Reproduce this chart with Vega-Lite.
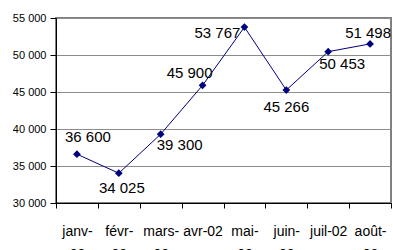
{
  "$schema": "https://vega.github.io/schema/vega-lite/v6.json",
  "width": 335,
  "height": 185,
  "autosize": {"type": "none"},
  "padding": {"left": 56, "top": 18, "right": 2, "bottom": 47},
  "background": "white",
  "config": {
    "locale": {"number": {"decimal": ",", "thousands": " ", "grouping": [3], "currency": ["", " €"]}},
    "view": {"stroke": "#808080", "strokeWidth": 2},
    "font": "Liberation Sans"
  },
  "data": {
    "values": [
      {"mois": "janv-02", "valeur": 36600},
      {"mois": "févr-02", "valeur": 34025},
      {"mois": "mars-02", "valeur": 39300},
      {"mois": "avr-02", "valeur": 45900},
      {"mois": "mai-02", "valeur": 53767},
      {"mois": "juin-02", "valeur": 45266},
      {"mois": "juil-02", "valeur": 50453},
      {"mois": "août-02", "valeur": 51498}
    ]
  },
  "encoding": {
    "x": {
      "field": "mois", "type": "nominal", "sort": null,
      "scale": {"paddingInner": 0, "paddingOuter": 0},
      "axis": {
        "title": null, "labelAngle": 0, "tickBand": "extent",
        "domainColor": "black", "tickColor": "black", "tickSize": 5,
        "labelColor": "black", "labelFont": "Liberation Sans", "labelFontSize": 14,
        "labelLineHeight": 23, "labelPadding": 16, "labelBaseline": "top",
        "labelExpr": "indexof(['avr-02','juil-02'], datum.label) >= 0 ? datum.label : [slice(datum.label, 0, indexof(datum.label, '-') + 1), slice(datum.label, indexof(datum.label, '-') + 1)]"
      }
    },
    "y": {
      "field": "valeur", "type": "quantitative",
      "scale": {"domain": [30000, 55000], "nice": false, "zero": false},
      "axis": {
        "title": null, "values": [30000, 35000, 40000, 45000, 50000, 55000], "format": ",d",
        "domainColor": "black", "tickColor": "black", "tickSize": 6, "labelPadding": 4,
        "labelColor": "black", "labelFont": "Liberation Sans", "labelFontSize": 11,
        "gridColor": "#8c8c8c", "gridWidth": 1
      }
    }
  },
  "layer": [
    {"mark": {"type": "line", "color": "#000080", "strokeWidth": 1}},
    {"mark": {"type": "point", "shape": "diamond", "size": 60, "filled": true, "color": "#000080", "opacity": 1}},
    {"transform": [{"filter": "datum.mois == 'janv-02'"}], "mark": {"type": "text", "fontSize": 15, "dx": 11, "dy": -17}, "encoding": {"text": {"field": "valeur", "format": ",d"}}},
    {"transform": [{"filter": "datum.mois == 'févr-02'"}], "mark": {"type": "text", "fontSize": 15, "dx": 3, "dy": 15}, "encoding": {"text": {"field": "valeur", "format": ",d"}}},
    {"transform": [{"filter": "datum.mois == 'mars-02'"}], "mark": {"type": "text", "fontSize": 15, "dx": 19, "dy": 11}, "encoding": {"text": {"field": "valeur", "format": ",d"}}},
    {"transform": [{"filter": "datum.mois == 'avr-02'"}], "mark": {"type": "text", "fontSize": 15, "dx": -13, "dy": -12}, "encoding": {"text": {"field": "valeur", "format": ",d"}}},
    {"transform": [{"filter": "datum.mois == 'mai-02'"}], "mark": {"type": "text", "fontSize": 15, "dx": -27, "dy": 6}, "encoding": {"text": {"field": "valeur", "format": ",d"}}},
    {"transform": [{"filter": "datum.mois == 'juin-02'"}], "mark": {"type": "text", "fontSize": 15, "dx": 0, "dy": 17}, "encoding": {"text": {"field": "valeur", "format": ",d"}}},
    {"transform": [{"filter": "datum.mois == 'juil-02'"}], "mark": {"type": "text", "fontSize": 15, "dx": 14, "dy": 12}, "encoding": {"text": {"field": "valeur", "format": ",d"}}},
    {"transform": [{"filter": "datum.mois == 'août-02'"}], "mark": {"type": "text", "fontSize": 15, "dx": -2, "dy": -11}, "encoding": {"text": {"field": "valeur", "format": ",d"}}}
  ]
}
